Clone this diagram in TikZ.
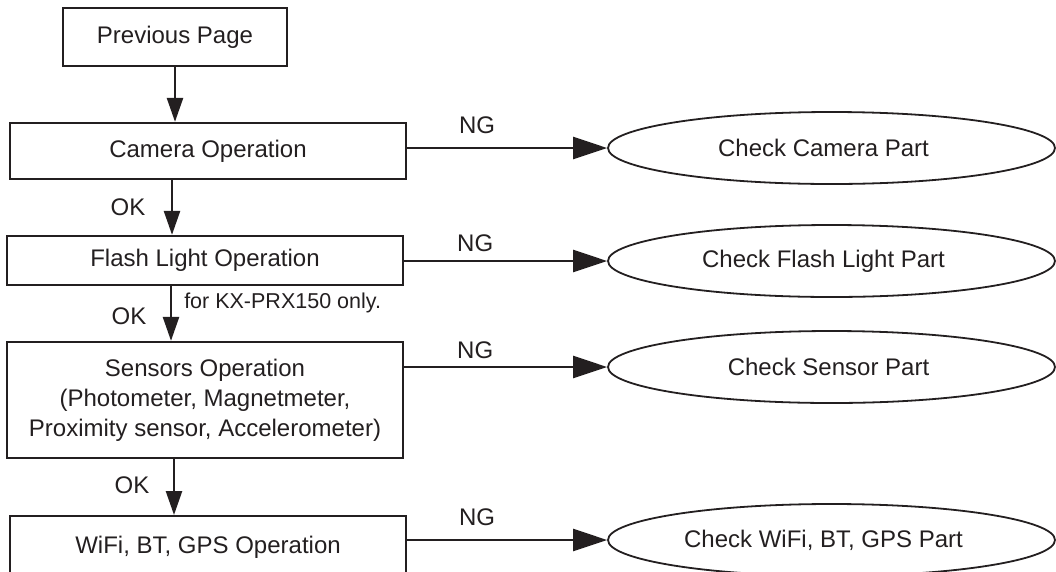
\documentclass[tikz,border=0pt]{standalone}
\usepackage{fontspec}
\setmainfont{Liberation Sans}
\usetikzlibrary{arrows.meta,shapes.geometric}
\definecolor{ink}{RGB}{35,31,32}
\begin{document}
\begin{tikzpicture}[x=1pt,y=-1pt,
  every node/.style={font=\fontsize{24}{30}\selectfont, text=ink},
  box/.style={draw=ink, line width=2.3pt, rectangle, align=center, inner sep=0pt, minimum width=396pt},
  oval/.style={draw=ink, line width=1.8pt, ellipse, inner sep=0pt, minimum width=447pt, minimum height=72pt},
  varr/.style={draw=ink, line width=2.5pt, -{Triangle[length=24pt,width=16pt]}},
  harr/.style={draw=ink, line width=2.5pt, -{Triangle[length=34pt,width=22pt]}},
  lbl/.style={inner sep=0pt},
  note/.style={inner sep=0pt, font=\fontsize{21.5}{25}\selectfont}
]
\useasboundingbox (0,0) rectangle (1056,571);
\clip (0,0) rectangle (1056,571);

\node[box, minimum width=224pt, minimum height=58pt] (prev) at (175,37) {Previous Page};
\node[box, minimum height=56pt] (cam) at (208,151) {Camera Operation};
\node[box, minimum height=49pt] (flash) at (205,260.5) {Flash Light Operation};
\node[box, minimum height=116pt] (sens) at (205,400) {Sensors Operation\\(Photometer, Magnetmeter,\\Proximity sensor, Accelerometer)};
\node[box, minimum height=62pt, anchor=north] (wifi) at (208,515) {WiFi, BT, GPS Operation};

\node[oval] (e1) at (831.5,148) {\hspace*{-16pt}Check Camera Part};
\node[oval] (e2) at (831.5,261) {\hspace*{-16pt}Check Flash Light Part};
\node[oval] (e3) at (831.5,367) {\hspace*{-6pt}Check Sensor Part};
\node[oval] (e4) at (831.5,540) {\hspace*{-16pt}Check WiFi, BT, GPS Part};

% vertical flow
\draw[varr] (prev.south) -- (prev.south |- cam.north);
\draw[varr] ([xshift=-36pt]cam.south) -- ([xshift=-36pt]cam.south |- flash.north)
  node[lbl, pos=0.5, xshift=-44pt] {OK};
\draw[varr] ([xshift=-34pt]flash.south) -- ([xshift=-34pt]flash.south |- sens.north)
  node[lbl, pos=0.55, xshift=-42pt] {OK}
  node[note, pos=0.3, anchor=west, xshift=12pt] {for KX-PRX150 only.};
\draw[varr] ([xshift=-31pt]sens.south) -- ([xshift=-31pt]sens.south |- wifi.north)
  node[lbl, pos=0.47, xshift=-42pt] {OK};

% NG branches
\draw[harr] (cam.east |- e1.west) -- (e1.west) node[lbl, pos=0.35, yshift=23pt] {NG};
\draw[harr] (flash.east |- e2.west) -- (e2.west) node[lbl, pos=0.35, yshift=18pt] {NG};
\draw[harr] (sens.east |- e3.west) -- (e3.west) node[lbl, pos=0.35, yshift=17pt] {NG};
\draw[harr] (wifi.east |- e4.west) -- (e4.west) node[lbl, pos=0.35, yshift=23pt] {NG};
\end{tikzpicture}
\end{document}
